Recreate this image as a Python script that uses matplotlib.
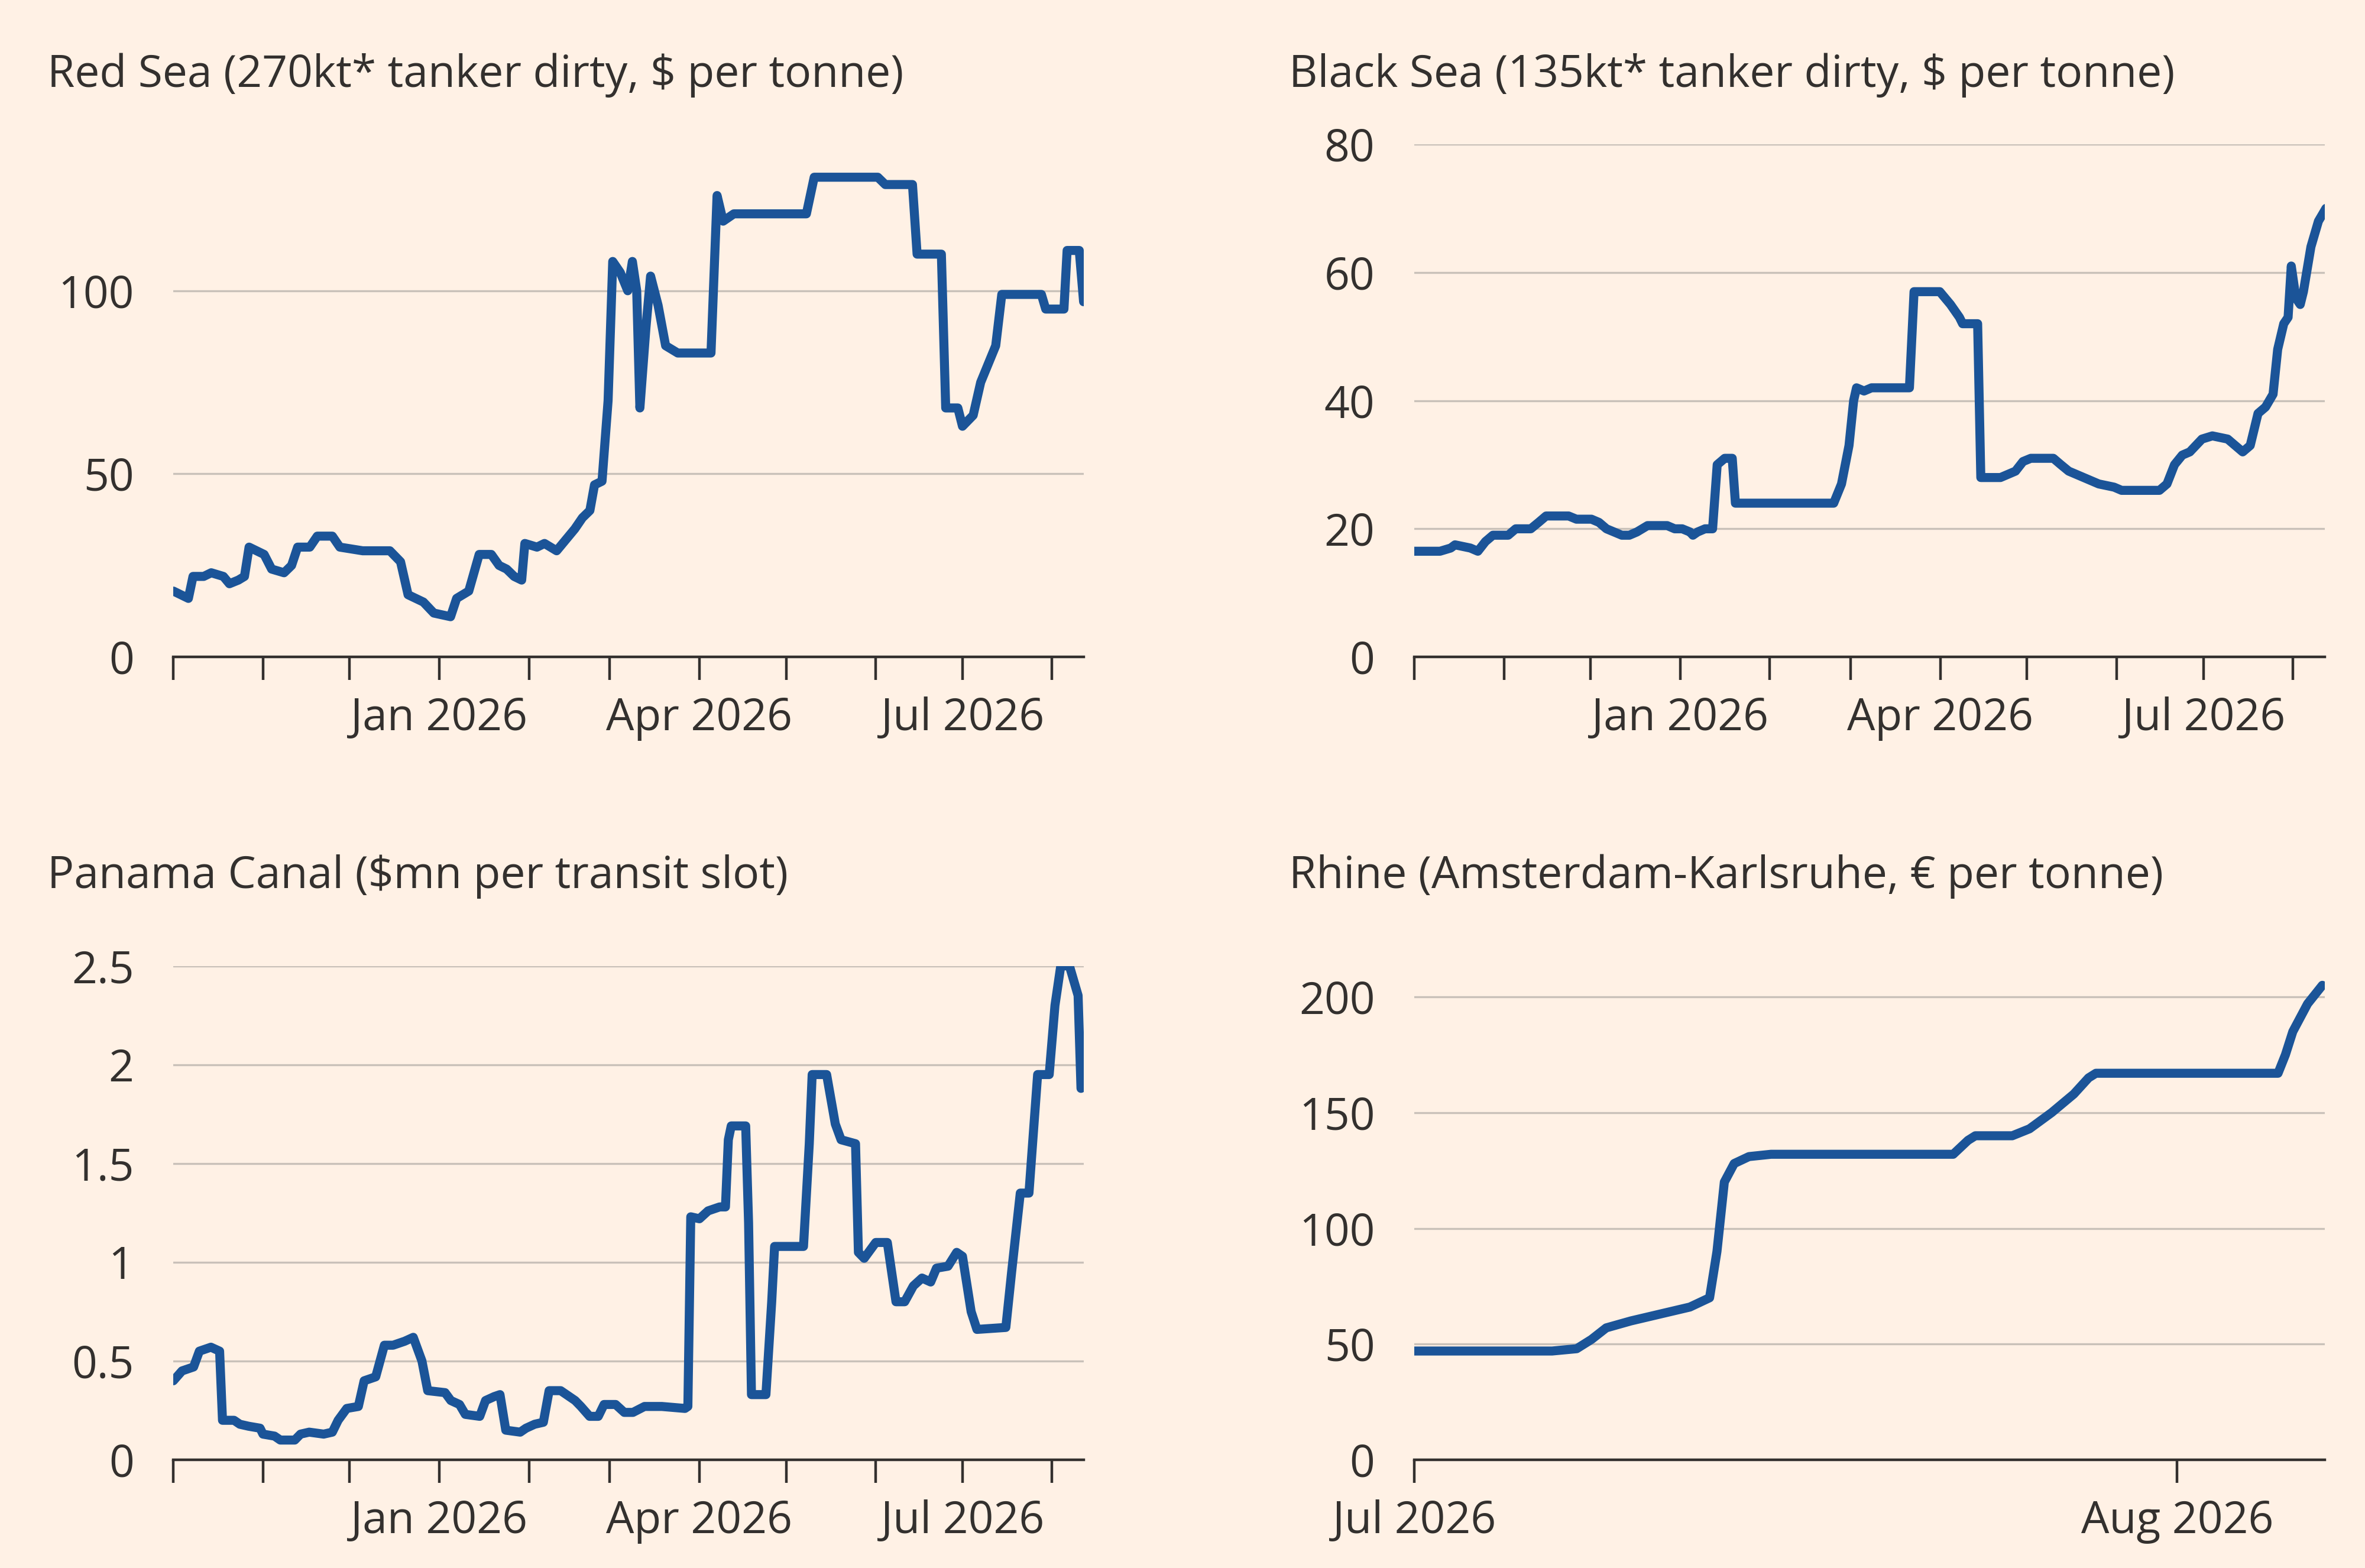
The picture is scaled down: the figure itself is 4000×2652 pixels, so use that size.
import matplotlib
matplotlib.use("Agg")
import matplotlib.pyplot as plt
import matplotlib.dates as mdates
import pandas as pd

# ---------------- data ----------------
red_start = "2025-10-01"
red_days = [0,2.6,5.2,6.8,10.5,13.1,17.3,19.4,22.5,24.6,26.2,28.8,31.4,34,38.3,40.9,43,47.2,49.8,55,57.6,65.5,74.9,78.6,81.2,86.5,90.1,95.9,98,102.2,105.8,110,112.7,115.3,117.9,120.5,121.6,125.8,128.4,132.6,134.7,138.9,141.5,144.1,145.7,148.3,150.4,152,154.6,157.2,158.8,160.3,161.4,163.5,165.1,167.7,170.3,174.5,186,188.1,190.2,193.9,219,221.7,243.7,246.3,255.7,257.3,265.7,267.2,271.4,273,276.7,279.3,281.9,284.5,286.6,300.3,301.8,308.1,309.2,313.4,314.9]
red_vals = [18,17,16,22,22,23,22,20,21,22,30,29,28,24,23,25,30,30,33,33,30,29,29,26,17,15,12,11,16,18,28,28,25,24,22,21,31,30,31,29,31,35,38,40,47,48,70,108,105,100,108,100,68,90,104,96,85,83,83,126,119,121,121,131,131,129,129,110,110,68,68,63,66,75,80,85,99,99,95,95,111,111,97]

black_start = "2025-10-01"
black_days = [0,8.9,12.6,14.1,19.4,22,24.6,27.2,32.5,35.1,40.3,43,45.6,53.4,56.1,61.3,63.9,66.5,71.8,74.4,77,80.7,87.5,90.1,92.7,95.4,96.4,98,100.6,103.2,104.8,107.4,110,111.1,113.7,145.1,147.8,150.4,152,153,155.6,158.2,166.1,171.3,172.9,181.8,185.5,188.6,189.7,194.9,196,202.8,208,210.6,213.3,221.1,223.7,226.4,231.6,236.8,242.1,244.7,252.6,257.8,260.4,263,265.7,268.3,272.5,276.1,281.4,284,286.6,289.2,291.9,294.5,297.1,298.7,300.8,302.3,303.4,305,306.5,307.6,310.2,312.8,315.4]
black_vals = [16.5,16.5,17,17.5,17,16.5,18,19,19,20,20,21,22,22,21.5,21.5,21,20,19,19,19.5,20.5,20.5,20,20,19.5,19,19.5,20,20,30,31,31,24,24,24,27,33,40,42,41.5,42,42,42,57,57,55,53,52,52,28,28,29,30.5,31,31,30,29,28,27,26.5,26,26,26,27,30,31.5,32,34,34.5,34,33,32,33,38,39,41,48,52,53,61,56,55,57,64,68,70]

pan_start = "2025-10-01"
pan_days = [0,3,7,9,13,16,17,21,23,26,30,31,35,37,42,44,47,52,55,57,60,64,66,70,73,76,80,83,86,88,94,96,99,101,106,108,111,113,115,120,122,125,128,130,134,137,139,141,144,147,149,153,156,159,163,169,177,178,179,182,185,189,191,192,193,198,199,200,205,207,208,218,220,221,226,229,231,236,237,239,243,247,250,253,256,259,262,264,268,271,273,276,278,288,290,293,296,299,303,305,307,310,313,314]
pan_vals = [0.4,0.45,0.47,0.55,0.57,0.55,0.2,0.2,0.18,0.17,0.16,0.13,0.12,0.1,0.1,0.13,0.14,0.13,0.14,0.2,0.26,0.27,0.4,0.42,0.58,0.58,0.6,0.62,0.5,0.35,0.34,0.3,0.28,0.23,0.22,0.3,0.32,0.33,0.15,0.14,0.16,0.18,0.19,0.35,0.35,0.32,0.3,0.27,0.22,0.22,0.28,0.28,0.24,0.24,0.27,0.27,0.26,0.27,1.23,1.22,1.26,1.28,1.28,1.62,1.69,1.69,1.2,0.33,0.33,0.8,1.08,1.08,1.6,1.95,1.95,1.7,1.62,1.6,1.05,1.02,1.1,1.1,0.8,0.8,0.88,0.92,0.9,0.97,0.98,1.05,1.03,0.75,0.66,0.67,0.95,1.35,1.35,1.95,1.95,2.3,2.5,2.5,2.35,1.88]

rhine_start = "2026-07-01"
rhine_days = [0,5.6,6.6,7.2,7.8,8.8,10,11.2,12,12.3,12.6,13,13.6,14.5,21.9,22.5,22.8,24.3,25,25.9,26.8,27.4,27.7,35.1,35.4,35.7,36.3,36.9]
rhine_vals = [47,47,48,52,57,60,63,66,70,90,120,128,131,132,132,138,140,140,143,150,158,165,167,167,175,185,197,205]

titles = ["Red Sea (270kt* tanker dirty, $ per tonne)",
          "Black Sea (135kt* tanker dirty, $ per tonne)",
          "Panama Canal ($mn per transit slot)",
          "Rhine (Amsterdam-Karlsruhe, € per tonne)"]
red_yticks = [0, 50, 100]
black_yticks = [0, 20, 40, 60, 80]
pan_yticks = [0, 0.5, 1, 1.5, 2, 2.5]
pan_ylabels = ["0", "0.5", "1", "1.5", "2", "2.5"]
rhine_yticks = [0, 50, 100, 150, 200]

# ---------------- style ----------------
BG = "#FFF1E5"
LINE = "#1B5498"
TXT = "#33302E"
GRID = "#C9C1B9"
plt.rcParams["font.family"] = ["Open Sans", "DejaVu Sans"]

fig = plt.figure(figsize=(20, 13.26), dpi=200, facecolor=BG)

def to_dates(start, days):
    return pd.Timestamp(start) + pd.to_timedelta(days, unit="D")

def panel(rect, start, days, vals, yticks, ylabels, ylim, xlim, monthly_labels, title, title_x, title_y):
    ax = fig.add_axes(rect, facecolor=BG)
    ax.plot(to_dates(start, days), vals, color=LINE, lw=5.5, solid_joinstyle="round", solid_capstyle="round", zorder=3)
    ax.set_ylim(*ylim)
    ax.set_xlim(pd.Timestamp(xlim[0]), pd.Timestamp(xlim[1]))
    ax.set_yticks(yticks)
    ax.set_yticklabels(ylabels if ylabels else [str(v) for v in yticks])
    for v in yticks[1:]:
        ax.axhline(v, color=GRID, lw=1.2, zorder=1)
    for s in ["top", "right", "left"]:
        ax.spines[s].set_visible(False)
    ax.spines["bottom"].set_color(TXT)
    ax.spines["bottom"].set_linewidth(1.6)
    ax.tick_params(axis="y", length=0, labelsize=27, labelcolor=TXT, pad=24)
    ax.tick_params(axis="x", length=14, width=1.6, color=TXT, labelsize=27, labelcolor=TXT, pad=10)
    ax.xaxis.set_major_locator(mdates.MonthLocator())
    ax.xaxis.set_major_formatter(plt.FuncFormatter(
        lambda x, p: mdates.num2date(x).strftime("%b %Y") if mdates.num2date(x).month in monthly_labels else ""))
    fig.text(title_x, title_y, title, fontsize=27, color=TXT, fontweight="medium", va="center", ha="left")
    return ax

panel([0.0733, 0.581, 0.385, 0.327], red_start, red_days, red_vals, red_yticks, None, (0, 140),
      ("2025-10-01", "2026-08-12"), (1, 4, 7), titles[0], 0.02, 0.952)
panel([0.598, 0.581, 0.385, 0.327], black_start, black_days, black_vals, black_yticks, None, (0, 80),
      ("2025-10-01", "2026-08-12"), (1, 4, 7), titles[1], 0.545, 0.952)
panel([0.0733, 0.069, 0.385, 0.315], pan_start, pan_days, pan_vals, pan_yticks, pan_ylabels, (0, 2.5),
      ("2025-10-01", "2026-08-12"), (1, 4, 7), titles[2], 0.02, 0.441)
panel([0.598, 0.069, 0.385, 0.31], rhine_start, rhine_days, rhine_vals, rhine_yticks, None, (0, 210),
      ("2026-07-01", "2026-08-07"), (7, 8), titles[3], 0.545, 0.441)

fig.savefig("out.png", dpi=200, facecolor=BG)
